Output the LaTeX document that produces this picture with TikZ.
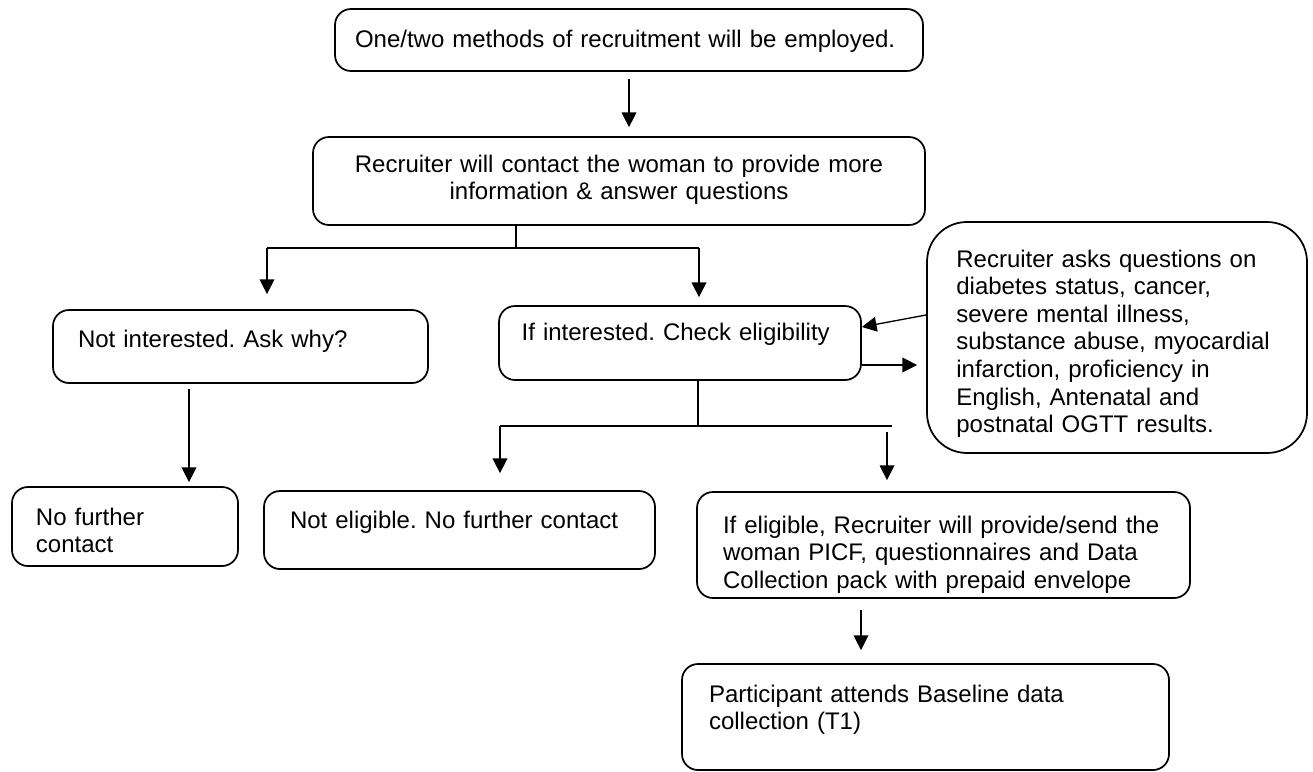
\documentclass[tikz,border=0pt]{standalone}
\usepackage{fontspec}
\setmainfont{Liberation Sans}
\usetikzlibrary{arrows.meta}
\frenchspacing
\hyphenpenalty=10000
\exhyphenpenalty=10000
\tikzset{
  rbox/.style   = {rectangle, rounded corners=12pt, draw=black, line width=1.3pt,
                   inner ysep=0pt, inner xsep=18pt, align=left,
                   font=\fontsize{18}{20.7}\selectfont},
  rarrow/.style = {-{Triangle[length=11pt, width=11pt]}, line width=1pt},
  rline/.style  = {line width=1pt},
}

\begin{document}
\begin{tikzpicture}[x=0.75pt, y=-0.75pt]
  \useasboundingbox (0,0) rectangle (1313,771);

  \node[rbox, inner xsep=15pt, text width=411pt, text height=28.5pt, text depth=18pt]
        (recruit) at (629,40) {One/two methods of recruitment will be employed.};
  \node[rbox, align=center, inner xsep=10pt, text width=439pt,
        text height=26.25pt, text depth=39.75pt] (contact)
        at (619,181) {Recruiter will contact the woman to provide more\\
                      information \& answer questions};
  \node[rbox, inner xsep=18.75pt, text width=243.75pt, text height=27.75pt,
        text depth=27pt] (notint) at (240.5,346.5) {Not interested. Ask why?};
  \node[rbox, inner xsep=17pt, text width=237.5pt, text height=25.5pt, text depth=30pt]
        (ifint) at (680,343) {\mbox{If interested. Check eligibility}};
  \node[rbox, rounded corners=30pt, inner xsep=22pt, text width=241pt,
        text height=33.75pt, text depth=139.5pt] (screen) at (1117,337.5)
        {Recruiter asks questions on\\ diabetes status, cancer,\\
         severe mental illness,\\ substance abuse, myocardial\\
         infarction, proficiency in\\ English, Antenatal and\\
         postnatal OGTT results.};
  \node[rbox, text width=133.5pt, text height=28.5pt, text depth=30.75pt]
        (nofurther) at (125,526.5) {No further\\ contact};
  \node[rbox, inner xsep=19.5pt, text width=254.25pt, text height=27.75pt,
        text depth=30.75pt] (noteli) at (459.5,530) {Not eligible. No further contact};
  \node[rbox, inner xsep=19.5pt, text width=330.75pt, text height=30.75pt,
        text depth=48.75pt] (eligible) at (943.5,545)
        {If eligible, Recruiter will provide/send the\\
         woman PICF, questionnaires and Data\\
         Collection pack with prepaid envelope};
  \node[rbox, inner xsep=20.25pt, text width=324.75pt, text height=28.5pt,
        text depth=51pt] (attend) at (925.5,717)
        {Participant attends Baseline data\\ collection (T1)};

  % forks and free ends
  \coordinate (fork1)  at (516,248);
  \coordinate (fork1l) at (267,248);
  \coordinate (fork1r) at (699,248);
  \coordinate (fork2)  at (698,426);
  \coordinate (fork2l) at (500,426);
  \coordinate (fork2r) at (892,426);
  \coordinate (drop1)  at (189,389);
  \coordinate (drop2)  at (887,432);
  \coordinate (drop3)  at (861,610);

  \draw[rarrow, shorten <=5pt, shorten >=6.75pt] (recruit.south) -- (recruit.south |- contact.north);
  \draw[rline] (fork1 |- contact.south) -- (fork1);
  \draw[rline] (fork1l) -- (fork1r);
  \draw[rarrow, shorten >=11.25pt] (fork1l) -- (fork1l |- notint.north);
  \draw[rarrow, shorten >=6pt] (fork1r) -- (fork1r |- ifint.north);
  \draw[rarrow] ([yshift=16.9pt]screen.west) -- ([yshift=12pt]ifint.east);
  \draw[rarrow, shorten >=6.75pt] ([yshift=-16.5pt]ifint.east) -- ([yshift=-16.5pt]ifint.east -| screen.west);
  \draw[rarrow, shorten >=3pt] (drop1) -- (drop1 |- nofurther.north);
  \draw[rline] (fork2 |- ifint.south) -- (fork2);
  \draw[rline] (fork2l) -- (fork2r);
  \draw[rarrow, shorten >=12.75pt] (fork2l) -- (fork2l |- noteli.north);
  \draw[rarrow, shorten >=8.25pt] (drop2) -- (drop2 |- eligible.north);
  \draw[rarrow, shorten >=9.75pt] (drop3) -- (drop3 |- attend.north);
\end{tikzpicture}
\end{document}
